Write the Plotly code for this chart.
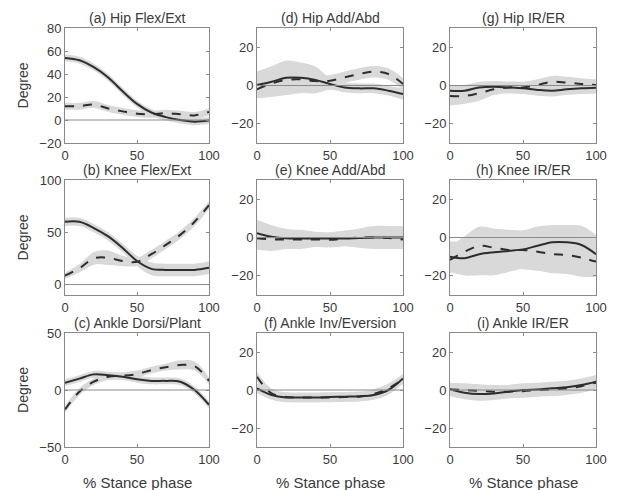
import plotly.graph_objects as go

# ---------------- data ----------------
stance = [0, 10, 20, 30, 40, 50, 60, 70, 80, 90, 100]

titles = ["(a) Hip Flex/Ext", "(b) Knee Flex/Ext", "(c) Ankle Dorsi/Plant",
          "(d) Hip Add/Abd", "(e) Knee Add/Abd", "(f) Ankle Inv/Eversion",
          "(g) Hip IR/ER", "(h) Knee IR/ER", "(i) Ankle IR/ER"]
x_title = "% Stance phase"
y_title = "Degree"

a_solid = [54, 52, 46, 37, 25, 14, 6.5, 2.5, 0, -1.5, -0.5]
a_solid_sd = [3, 3, 3, 3, 3, 3, 3, 3, 3, 3, 3]
a_dashed = [12, 12, 13.5, 10, 7.5, 5.5, 5, 6, 5, 4, 7]
a_dashed_sd = [3, 3, 3, 3, 3, 3, 3, 3, 3, 3, 3]

b_solid = [60, 60, 54, 46, 35, 22.5, 15, 14, 14, 14, 16]
b_solid_sd = [4, 4, 4, 4, 4, 5, 6, 6, 6, 6, 6]
b_dashed = [8.5, 15.5, 25, 25.6, 22.5, 21.8, 29, 38, 47.5, 60, 76]
b_dashed_sd = [3, 4, 6, 7, 5, 4, 4, 4, 4, 4, 4]

c_solid = [6.4, 10, 13.7, 13, 11.7, 9.4, 8, 8, 7.3, 0, -13]
c_solid_sd = [3, 3, 3, 3, 3, 3, 3, 3, 3, 3, 3]
c_dashed = [-17, -1.5, 7.3, 11.7, 12.5, 14, 17.5, 20, 22, 21, 8]
c_dashed_sd = [3, 3, 3, 3, 3, 3, 3, 3, 4, 4, 3]

d_solid = [0.3, 2, 4, 4, 2.9, 0.8, -1, -1.5, -1.5, -2.7, -4.4]
d_solid_sd = [7, 8, 9, 8, 7, 3, 2.5, 2.5, 2.5, 2.5, 3]
d_dashed = [-2, 1.1, 2.9, 3.2, 2.3, 2.5, 4.3, 6, 7.2, 6, 0.8]
d_dashed_sd = [3, 4, 4, 3, 3, 3, 3, 3, 3, 3, 3]

e_solid = [2.2, 0.4, -0.4, -0.5, -0.5, -0.5, -0.5, -0.3, 0, 0, 0]
e_solid_sd = [7, 6, 5, 4, 3, 3, 4, 5, 6, 6, 6]
e_dashed = [-0.4, -1, -1, -1, -1, -1.2, -0.5, 0, 0, -0.3, -1]
e_dashed_sd = [6, 6, 5, 5, 4, 4, 4, 4, 5, 5, 5]

f_solid = [0.9, -2.6, -3.9, -3.9, -3.9, -3.7, -3.5, -3.3, -2.6, 0, 6.1]
f_solid_sd = [2.5, 2.5, 2.5, 2.5, 2.5, 2.5, 2.5, 2.5, 2.5, 2.5, 2.5]
f_dashed = [7, -1.8, -3.7, -3.9, -3.9, -3.9, -3.7, -3.5, -2.1, 0.9, 5.6]
f_dashed_sd = [2.5, 2.5, 2.5, 2.5, 2.5, 2.5, 2.5, 2.5, 2.5, 2.5, 2.5]

g_solid = [-2.7, -2.7, -1, -0.6, -1, -1.5, -2.3, -2.7, -2, -1.5, -1.2]
g_solid_sd = [3, 3, 3, 3, 3, 3, 3, 3, 3, 3, 3]
g_dashed = [-5.5, -5.5, -4, -2, -1, -1, 0.3, 2, 1.5, 0.8, 0.3]
g_dashed_sd = [5, 4, 4, 3, 3, 3, 3, 3, 3, 3, 3]

h_solid = [-10, -10.8, -8.7, -7.7, -7, -6.2, -4.3, -2.5, -2.5, -3.9, -8.7]
h_solid_sd = [8, 9, 11, 12, 11, 10, 10, 9, 9, 10, 10]
h_dashed = [-11.7, -7.4, -4.4, -5.3, -6.5, -6.5, -7.4, -8.7, -9.1, -10.5, -12.6]
h_dashed_sd = [7, 8, 10, 10, 10, 10, 10, 10, 10, 10, 8]

i_solid = [0.3, -1.4, -2.1, -1.8, -0.9, 0, 0.3, 0.9, 1.4, 2.6, 4.4]
i_solid_sd = [3.5, 3.5, 3.5, 3.5, 3.5, 3.5, 3.5, 3.5, 3.5, 3.5, 3.5]
i_dashed = [0.3, 0, -0.5, -0.9, -0.9, -0.6, 0, 0.3, 0.9, 2, 3.9]
i_dashed_sd = [3.5, 3.5, 3.5, 3.5, 3.5, 3.5, 3.5, 3.5, 3.5, 3.5, 3.5]

y_ranges = [[-20, 80], [-10, 100], [-50, 50],
            [-30, 30], [-30, 30], [-30, 30],
            [-30, 30], [-30, 30], [-30, 30]]
y_dticks = [20, 50, 50, 20, 20, 20, 20, 20, 20]
x_ticks = [0, 50, 100]

series = [
    (a_solid, a_solid_sd, a_dashed, a_dashed_sd),
    (b_solid, b_solid_sd, b_dashed, b_dashed_sd),
    (c_solid, c_solid_sd, c_dashed, c_dashed_sd),
    (d_solid, d_solid_sd, d_dashed, d_dashed_sd),
    (e_solid, e_solid_sd, e_dashed, e_dashed_sd),
    (f_solid, f_solid_sd, f_dashed, f_dashed_sd),
    (g_solid, g_solid_sd, g_dashed, g_dashed_sd),
    (h_solid, h_solid_sd, h_dashed, h_dashed_sd),
    (i_solid, i_solid_sd, i_dashed, i_dashed_sd),
]

# ---------------- layout geometry ----------------
W, H = 618, 490
col_px = [(65, 209), (257, 403), (450, 596)]
row_px = [(28, 143), (180, 295), (333, 447)]
xtitle_y_px = 482

FONT = "Liberation Sans, Arial, Helvetica, sans-serif"
LINE_C = "rgb(45,45,45)"
BAND_C = "rgb(217,217,217)"
AX_C = "#8a8a8a"
TXT_C = "#3a3a3a"

fig = go.Figure()
layout = dict(
    width=W, height=H, template="none",
    margin=dict(l=0, r=0, t=0, b=0),
    paper_bgcolor="white", plot_bgcolor="white",
    showlegend=False,
    font=dict(family=FONT, size=13, color=TXT_C),
    annotations=[], shapes=[],
)

for idx, (sm, ssd, dm, dsd) in enumerate(series):
    col = idx // 3
    row = idx % 3
    k = idx + 1
    xa = "x" if k == 1 else f"x{k}"
    ya = "y" if k == 1 else f"y{k}"

    for mean, sd in ((sm, ssd), (dm, dsd)):
        upper = [m + s for m, s in zip(mean, sd)]
        lower = [m - s for m, s in zip(mean, sd)]
        fig.add_trace(go.Scatter(x=stance, y=upper, xaxis=xa, yaxis=ya, mode="lines",
                                 line=dict(width=0, shape="spline", color=BAND_C),
                                 hoverinfo="skip"))
        fig.add_trace(go.Scatter(x=stance, y=lower, xaxis=xa, yaxis=ya, mode="lines",
                                 line=dict(width=0, shape="spline", color=BAND_C),
                                 fill="tonexty", fillcolor=BAND_C, hoverinfo="skip"))
    fig.add_trace(go.Scatter(x=stance, y=sm, xaxis=xa, yaxis=ya, mode="lines",
                             line=dict(color=LINE_C, width=2, shape="spline")))
    fig.add_trace(go.Scatter(x=stance, y=dm, xaxis=xa, yaxis=ya, mode="lines",
                             line=dict(color=LINE_C, width=2, dash="dash", shape="spline")))

    x0, x1 = col_px[col]
    y0, y1 = row_px[row]
    xdict = dict(
        domain=[x0 / W, x1 / W], range=[0, 100], anchor=ya,
        tickmode="array", tickvals=x_ticks, ticktext=[str(t) for t in x_ticks],
        ticks="inside", ticklen=3, tickcolor=AX_C,
        showline=True, linecolor=AX_C, linewidth=1, mirror="ticks",
        showgrid=False, zeroline=False, automargin=False,
        tickfont=dict(size=13, color=TXT_C, family=FONT),
    )
    ydict = dict(
        domain=[1 - y1 / H, 1 - y0 / H], range=y_ranges[idx], anchor=xa,
        tick0=0, dtick=y_dticks[idx],
        ticks="inside", ticklen=3, tickcolor=AX_C,
        showline=True, linecolor=AX_C, linewidth=1, mirror="ticks",
        showgrid=False, zeroline=False, automargin=False,
        tickfont=dict(size=13, color=TXT_C, family=FONT),
    )
    if col == 0:
        ydict["title"] = dict(text=y_title, standoff=7,
                              font=dict(size=14, color=TXT_C, family=FONT))
    layout["xaxis" if k == 1 else f"xaxis{k}"] = xdict
    layout["yaxis" if k == 1 else f"yaxis{k}"] = ydict

    if row == 2:
        layout["annotations"].append(dict(text=x_title, xref=f"{xa} domain", yref="paper",
                                          x=0.5, y=1 - xtitle_y_px / H,
                                          xanchor="center", yanchor="middle", showarrow=False,
                                          font=dict(size=15, color=TXT_C, family=FONT)))

    layout["shapes"].append(dict(type="line", xref=f"{xa} domain", yref=ya,
                                 x0=0, x1=1, y0=0, y1=0, layer="above",
                                 line=dict(color="#8a8a8a", width=1)))
    layout["annotations"].append(dict(text=titles[idx], xref=f"{xa} domain", yref=f"{ya} domain",
                                      x=0.5, y=1, xanchor="center", yanchor="bottom",
                                      yshift=0, showarrow=False,
                                      font=dict(size=14, color=TXT_C, family=FONT)))

fig.update_layout(**layout)
# remove the default 8px page margin so the figure fills the window exactly
fig.write_html("out.html",
               config={"displayModeBar": False},
               post_script="document.body.style.margin='0';document.body.style.overflow='hidden';")
